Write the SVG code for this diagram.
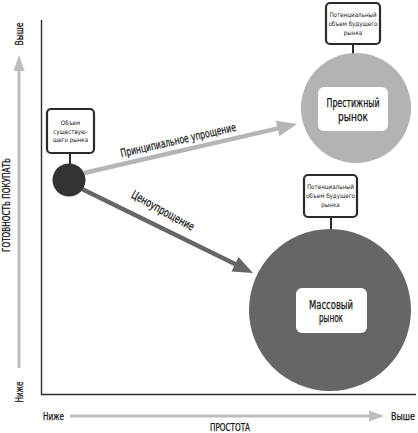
<svg xmlns="http://www.w3.org/2000/svg" width="418" height="433" viewBox="0 0 418 433">
<defs>
<style>
text{font-family:"DejaVu Sans Condensed","DejaVu Sans",sans-serif;font-stretch:condensed;fill:#161616;text-anchor:middle}
.box{fill:#fff;stroke:#2b2b2b;stroke-width:2.2}
.stem{stroke:#2b2b2b;stroke-width:2}
.tiny{font-size:6.2px}
.lbl{font-size:11.5px;stroke:#161616;stroke-width:0.25}
.ax{font-size:10.5px;stroke:#161616;stroke-width:0.25}
</style>
</defs>
<rect width="418" height="433" fill="#fff"/>
<g id="axes">
<path d="M41.5,20 V394.5 H416" fill="none" stroke="#2b2b2b" stroke-width="1.4"/>
<line x1="19" y1="368" x2="19" y2="70" stroke="#bdbdbd" stroke-width="3"/>
<path d="M13.5,71 L19,55 L24.5,71 Z" fill="#bdbdbd"/>
<line x1="70" y1="416" x2="370" y2="416" stroke="#bdbdbd" stroke-width="3"/>
<path d="M369,410.5 L384,416 L369,421.5 Z" fill="#bdbdbd"/>
<text class="ax" transform="translate(23,34) rotate(-90)" textLength="23" lengthAdjust="spacingAndGlyphs">Выше</text>
<text class="ax" transform="translate(23,392) rotate(-90)" textLength="21" lengthAdjust="spacingAndGlyphs">Ниже</text>
<text class="ax" transform="translate(10,205) rotate(-90)" textLength="94" lengthAdjust="spacingAndGlyphs">ГОТОВНОСТЬ ПОКУПАТЬ</text>
<text class="ax" x="53.5" y="419.5" textLength="21" lengthAdjust="spacingAndGlyphs">Ниже</text>
<text class="ax" x="403" y="419.5" textLength="24" lengthAdjust="spacingAndGlyphs">Выше</text>
<text class="ax" x="230" y="431" textLength="40" lengthAdjust="spacingAndGlyphs">ПРОСТОТА</text>
</g>
<g id="connectors">
<line x1="84" y1="173" x2="278" y2="128.4" stroke="#b5b5b5" stroke-width="4.5"/>
<path d="M297,124 L279.3,136.3 L275.7,120.7 Z" fill="#b5b5b5"/>
<line x1="82" y1="189" x2="236" y2="264.6" stroke="#666" stroke-width="4.5"/>
<path d="M253,273 L238.5,257 L231.5,271.4 Z" fill="#666"/>
<text class="lbl" transform="translate(179,144) rotate(-13)" textLength="118" lengthAdjust="spacingAndGlyphs">Принципиальное упрощение</text>
<text class="lbl" transform="translate(161,214) rotate(29)" textLength="70" lengthAdjust="spacingAndGlyphs">Ценоупрощение</text>
</g>
<g id="existing">
<line class="stem" x1="70" y1="153" x2="70" y2="165"/>
<rect class="box" x="47" y="109" width="47" height="44" rx="4"/>
<text class="tiny" x="70.5" y="125">Объем</text>
<text class="tiny" x="70.5" y="133.5">существую-</text>
<text class="tiny" x="70.5" y="142">щего рынка</text>
<circle cx="69" cy="180" r="16.5" fill="#333"/>
</g>
<g id="prestige">
<line class="stem" x1="353" y1="44" x2="353" y2="56"/>
<rect class="box" x="326" y="3" width="54" height="41" rx="4"/>
<text class="tiny" x="353" y="17">Потенциальный</text>
<text class="tiny" x="353" y="26">объем будущего</text>
<text class="tiny" x="353" y="35">рынка</text>
<circle cx="356" cy="108" r="55" fill="#b3b3b3"/>
<rect x="318" y="87" width="70" height="44" rx="6" fill="#fff"/>
<text class="lbl" x="353" y="107" textLength="53" lengthAdjust="spacingAndGlyphs">Престижный</text>
<text class="lbl" x="353" y="121" textLength="30" lengthAdjust="spacingAndGlyphs">рынок</text>
</g>
<g id="mass">
<line class="stem" x1="331" y1="217" x2="331" y2="231"/>
<rect class="box" x="304" y="175" width="53" height="42" rx="4"/>
<text class="tiny" x="330.5" y="189">Потенциальный</text>
<text class="tiny" x="330.5" y="198">объем будущего</text>
<text class="tiny" x="330.5" y="207">рынка</text>
<circle cx="330" cy="310" r="81" fill="#666"/>
<rect x="296" y="288" width="71" height="45" rx="6" fill="#fff"/>
<text class="lbl" x="331" y="309" textLength="44" lengthAdjust="spacingAndGlyphs">Массовый</text>
<text class="lbl" x="331" y="322" textLength="24" lengthAdjust="spacingAndGlyphs">рынок</text>
</g>
</svg>
